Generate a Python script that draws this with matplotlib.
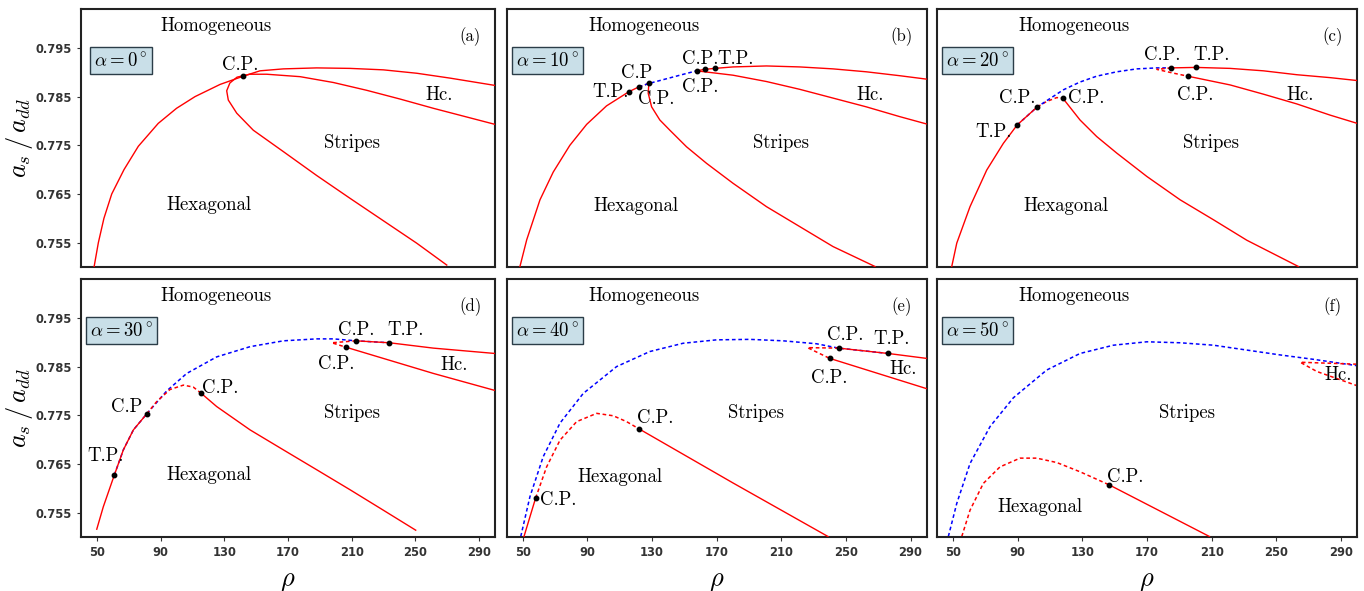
import matplotlib
matplotlib.use("Agg")
import matplotlib.pyplot as plt

plt.rcParams["mathtext.fontset"] = "cm"

# ---- phase boundaries (rho, a_s/a_dd) ----
# (a) alpha = 0
a_outer_rho = [48.2, 50.9, 54.4, 59.3, 67.0, 76.0, 88.5, 100.0, 111.6, 127.3, 141.9, 152.4, 167.1, 188.0, 209.0, 229.9, 250.9, 271.8, 300.0]
a_outer_val = [0.7500, 0.7550, 0.7600, 0.7650, 0.7700, 0.7748, 0.7795, 0.7826, 0.7850, 0.7875, 0.7892, 0.7903, 0.7907, 0.7909, 0.7908, 0.7905, 0.7898, 0.7888, 0.7873]
a_inner_rho = [300.0, 261.3, 240.4, 219.4, 198.5, 177.6, 156.6, 146.0, 138.0, 133.5, 131.5, 132.5, 137.8, 148.2, 167.1, 188.0, 209.0, 229.9, 250.8, 269.7]
a_inner_val = [0.7793, 0.7826, 0.7845, 0.7863, 0.7879, 0.7891, 0.7896, 0.7896, 0.7890, 0.7878, 0.7862, 0.7843, 0.7816, 0.7781, 0.7737, 0.7688, 0.7641, 0.7595, 0.7549, 0.7504]
a_pts_rho = [141.9]
a_pts_val = [0.7892]

# (b) alpha = 10
b_outer_rho = [48.2, 52.4, 56.5, 60.6, 68.8, 79.1, 89.5, 101.8, 115.6, 121.8]
b_outer_val = [0.7501, 0.7556, 0.7597, 0.7638, 0.7695, 0.7750, 0.7793, 0.7831, 0.7860, 0.7870]
b_meta_rho = [121.8, 128.0]
b_meta_val = [0.7870, 0.7877]
b_blue_rho = [121.8, 128.0, 147.2, 157.5]
b_blue_val = [0.7870, 0.7877, 0.7894, 0.7903]
b_upper_rho = [157.5, 162.6, 168.8, 180.1, 200.8, 221.4, 242.0, 262.6, 283.2, 299.7]
b_upper_val = [0.7903, 0.7906, 0.7908, 0.7911, 0.7913, 0.7911, 0.7907, 0.7901, 0.7893, 0.7886]
b_lower_rho = [157.5, 180.1, 200.8, 221.4, 242.0, 262.6, 283.2, 299.7]
b_lower_val = [0.7903, 0.7894, 0.7881, 0.7865, 0.7847, 0.7829, 0.7809, 0.7794]
b_inner_rho = [128.0, 127.6, 129.7, 134.8, 141.0, 151.3, 163.7, 180.1, 200.8, 221.4, 242.0, 268.0]
b_inner_val = [0.7877, 0.7857, 0.7829, 0.7802, 0.7781, 0.7747, 0.7713, 0.7672, 0.7624, 0.7583, 0.7542, 0.7501]
b_pts_rho = [115.6, 121.8, 128.0, 157.5, 162.6, 168.8]
b_pts_val = [0.7860, 0.7870, 0.7877, 0.7903, 0.7906, 0.7908]

# (c) alpha = 20
c_outer_rho = [49.3, 52.4, 60.6, 70.9, 81.2, 89.8, 102.2]
c_outer_val = [0.7501, 0.7549, 0.7624, 0.7699, 0.7754, 0.7792, 0.7829]
c_hump_rho = [102.2, 108.0, 114.2, 117.9]
c_hump_val = [0.7829, 0.7840, 0.7848, 0.7847]
c_blue_rho = [89.8, 102.2, 118.3, 128.6, 138.9, 151.3, 163.7, 176.1, 184.9]
c_blue_val = [0.7792, 0.7829, 0.7864, 0.7880, 0.7892, 0.7901, 0.7907, 0.7909, 0.7909]
c_upper_rho = [184.9, 200.2, 221.4, 242.0, 262.6, 283.2, 300.0]
c_upper_val = [0.7909, 0.7910, 0.7908, 0.7903, 0.7895, 0.7889, 0.7883]
c_lower_rho = [195.2, 221.4, 242.0, 262.6, 283.2, 300.0]
c_lower_val = [0.7892, 0.7874, 0.7855, 0.7835, 0.7812, 0.7795]
c_tip_rho = [184.9, 176.1, 185.3, 195.2]
c_tip_val = [0.7909, 0.7906, 0.7899, 0.7892]
c_inner_rho = [117.9, 128.6, 138.9, 151.3, 169.9, 190.5, 211.1, 231.7, 263.6]
c_inner_val = [0.7847, 0.7802, 0.7768, 0.7734, 0.7686, 0.7638, 0.7597, 0.7555, 0.7501]
c_pts_rho = [89.8, 102.2, 117.9, 184.9, 200.2, 195.2]
c_pts_val = [0.7792, 0.7829, 0.7847, 0.7909, 0.7910, 0.7892]

# (d) alpha = 30
d_outer_rho = [49.9, 54.0, 60.9, 66.6, 72.9, 81.3]
d_outer_val = [0.7516, 0.7562, 0.7627, 0.7679, 0.7720, 0.7753]
d_blue_rho = [60.9, 66.6, 72.9, 81.3, 93.8, 106.4, 125.2, 146.2, 167.1, 188.1, 198.5, 212.7, 233.7]
d_blue_val = [0.7627, 0.7679, 0.7720, 0.7753, 0.7800, 0.7836, 0.7870, 0.7891, 0.7903, 0.7907, 0.7907, 0.7903, 0.7899]
d_hump_rho = [81.3, 87.5, 95.9, 104.3, 110.5, 115.2]
d_hump_val = [0.7753, 0.7778, 0.7803, 0.7812, 0.7808, 0.7796]
d_inner_rho = [115.2, 125.2, 146.2, 167.1, 188.1, 209.0, 229.9, 250.2]
d_inner_val = [0.7796, 0.7768, 0.7720, 0.7679, 0.7638, 0.7597, 0.7555, 0.7514]
d_upper_rho = [212.7, 233.7, 261.3, 300.0]
d_upper_val = [0.7903, 0.7899, 0.7888, 0.7877]
d_lower_rho = [206.3, 261.3, 300.0]
d_lower_val = [0.7890, 0.7836, 0.7801]
d_tip_rho = [212.7, 197.5, 206.3]
d_tip_val = [0.7903, 0.7899, 0.7890]
d_pts_rho = [60.9, 81.3, 115.2, 212.7, 233.7, 206.3]
d_pts_val = [0.7627, 0.7753, 0.7796, 0.7903, 0.7899, 0.7890]

# (e) alpha = 40
e_outer_rho = [50.7, 57.9]
e_outer_val = [0.7501, 0.7580]
e_blue_rho = [48.7, 54.4, 62.6, 73.0, 87.4, 108.0, 128.6, 149.2, 169.9, 190.5, 211.1, 231.7, 245.5, 276.2]
e_blue_val = [0.7501, 0.7583, 0.7665, 0.7734, 0.7795, 0.7850, 0.7881, 0.7898, 0.7905, 0.7906, 0.7903, 0.7897, 0.7888, 0.7877]
e_hump_rho = [57.9, 64.7, 73.0, 83.3, 95.7, 106.0, 114.2, 122.0]
e_hump_val = [0.7580, 0.7644, 0.7699, 0.7737, 0.7754, 0.7749, 0.7737, 0.7722]
e_inner_rho = [122.0, 180.1, 238.9]
e_inner_val = [0.7722, 0.7611, 0.7501]
e_upper_rho = [245.5, 276.2, 299.7]
e_upper_val = [0.7888, 0.7877, 0.7867]
e_lower_rho = [239.9, 299.7]
e_lower_val = [0.7867, 0.7805]
e_tip_rho = [245.5, 226.2, 239.9]
e_tip_val = [0.7888, 0.7889, 0.7867]
e_pts_rho = [57.9, 122.0, 245.5, 276.2, 239.9]
e_pts_val = [0.7580, 0.7722, 0.7888, 0.7877, 0.7867]

# (f) alpha = 50
f_blue_rho = [47.2, 52.4, 60.6, 73.0, 87.4, 108.0, 128.6, 149.2, 169.9, 190.5, 211.1, 231.7, 252.3, 272.9, 299.7]
f_blue_val = [0.7501, 0.7569, 0.7651, 0.7727, 0.7786, 0.7843, 0.7877, 0.7894, 0.7901, 0.7899, 0.7894, 0.7884, 0.7874, 0.7865, 0.7852]
f_hump_rho = [55.5, 60.6, 68.8, 79.1, 91.5, 101.8, 114.2, 128.6, 146.7]
f_hump_val = [0.7501, 0.7555, 0.7610, 0.7644, 0.7662, 0.7662, 0.7653, 0.7634, 0.7607]
f_inner_rho = [146.7, 208.6]
f_inner_val = [0.7607, 0.7501]
f_hc_rho = [299.7, 264.7, 275.0, 299.7]
f_hc_val = [0.7855, 0.7859, 0.7840, 0.7811]
f_pts_rho = [146.7]
f_pts_val = [0.7607]

angles = [0, 10, 20, 30, 40, 50]
panel_tags = ["(a)", "(b)", "(c)", "(d)", "(e)", "(f)"]
x_ticks = [50, 90, 130, 170, 210, 250, 290]
y_ticks = [0.755, 0.765, 0.775, 0.785, 0.795]

RED = "#ff0000"
BLUE = "#0000ff"
SERIF = "cmr10"
LBL = 13.5


def solid(ax, r, v):
    ax.plot(r, v, color=RED, lw=1.0, zorder=3)


def dashed(ax, r, v, color=RED):
    ax.plot(r, v, color=color, lw=1.1, dashes=(2.4, 1.8), zorder=2)


def dots(ax, r, v):
    ax.plot(r, v, "o", color="black", ms=3.2, zorder=5)


def label(ax, s, r, v, ha="center"):
    ax.text(r, v, s, fontsize=LBL, family=SERIF, ha=ha, va="center", zorder=6)


fig = plt.figure(figsize=(13.64, 5.91), dpi=100)
W, H = 1364.0, 591.0
cols = [(81, 414), (506.7, 420), (936.7, 420.6)]
rows = [(9, 258), (279, 258)]

axes = []
for i in range(6):
    r, c = divmod(i, 3)
    x0, w = cols[c]
    y0, h = rows[r]
    ax = fig.add_axes([x0 / W, 1 - (y0 + h) / H, w / W, h / H])
    ax.set_xlim(40, 300)
    ax.set_ylim(0.750, 0.803)
    for sp in ax.spines.values():
        sp.set_linewidth(1.5)
        sp.set_color("#222222")
    ax.tick_params(direction="out", length=3, width=0.8, color="#333333",
                   labelsize=8.3, labelcolor="#333333")
    if r == 1:
        ax.set_xticks(x_ticks)
        for t in ax.get_xticklabels():
            t.set_fontweight("bold")
        ax.set_xlabel(r"$\rho$", fontsize=19)
        ax.xaxis.set_label_coords(0.5, -0.115)
    else:
        ax.set_xticks([])
    if c == 0:
        ax.set_yticks(y_ticks)
        ax.set_yticklabels([f"{t:.3f}" for t in y_ticks])
        for t in ax.get_yticklabels():
            t.set_fontweight("bold")
        ax.set_ylabel(r"$a_s\,/\,a_{dd}$", fontsize=19)
        ax.yaxis.set_label_coords(-0.112, 0.5)
    else:
        ax.set_yticks([])
    ax.text(0.94, 0.893, panel_tags[i], transform=ax.transAxes, fontsize=12,
            family=SERIF, ha="center", va="center")
    ax.text(0.097, 0.80, rf"$\alpha = {angles[i]}^\circ$", transform=ax.transAxes,
            fontsize=13.5, ha="center", va="center",
            bbox=dict(boxstyle="square,pad=0.22", fc="#c9dfe8", ec="#2b3d48", lw=1.0))
    label(ax, "Homogeneous", 125, 0.7995)
    axes.append(ax)

ax_a, ax_b, ax_c, ax_d, ax_e, ax_f = axes

# (a)
solid(ax_a, a_outer_rho, a_outer_val)
solid(ax_a, a_inner_rho, a_inner_val)
dots(ax_a, a_pts_rho, a_pts_val)
label(ax_a, "C.P.", 140, 0.7915)
label(ax_a, "Hexagonal", 120.4, 0.7627)
label(ax_a, "Stripes", 210, 0.7755)
label(ax_a, "Hc.", 265, 0.7853)

# (b)
solid(ax_b, b_outer_rho, b_outer_val)
dashed(ax_b, b_meta_rho, b_meta_val)
dashed(ax_b, b_blue_rho, b_blue_val, BLUE)
solid(ax_b, b_upper_rho, b_upper_val)
solid(ax_b, b_lower_rho, b_lower_val)
solid(ax_b, b_inner_rho, b_inner_val)
dots(ax_b, b_pts_rho, b_pts_val)
label(ax_b, "T.P.", 104, 0.7860)
label(ax_b, "C.P", 120.3, 0.7898)
label(ax_b, "C.P.", 132.3, 0.7845)
label(ax_b, "C.P.", 159.5, 0.7870)
label(ax_b, "C.P.", 159.5, 0.7927)
label(ax_b, "T.P.", 181.8, 0.7927)
label(ax_b, "Hexagonal", 120, 0.7625)
label(ax_b, "Stripes", 209.6, 0.7755)
label(ax_b, "Hc.", 264.7, 0.7853)

# (c)
solid(ax_c, c_outer_rho, c_outer_val)
dashed(ax_c, c_hump_rho, c_hump_val)
dashed(ax_c, c_blue_rho, c_blue_val, BLUE)
solid(ax_c, c_upper_rho, c_upper_val)
solid(ax_c, c_lower_rho, c_lower_val)
dashed(ax_c, c_tip_rho, c_tip_val)
solid(ax_c, c_inner_rho, c_inner_val)
dots(ax_c, c_pts_rho, c_pts_val)
label(ax_c, "T.P.", 75, 0.7778)
label(ax_c, "C.P.", 89.8, 0.7847)
label(ax_c, "C.P.", 132.7, 0.7847)
label(ax_c, "C.P.", 179.1, 0.7935)
label(ax_c, "T.P.", 210.1, 0.7935)
label(ax_c, "C.P.", 199.7, 0.7853)
label(ax_c, "Hexagonal", 120, 0.7625)
label(ax_c, "Stripes", 209.6, 0.7755)
label(ax_c, "Hc.", 264.7, 0.7853)

# (d)
solid(ax_d, d_outer_rho, d_outer_val)
dashed(ax_d, d_blue_rho, d_blue_val, BLUE)
dashed(ax_d, d_hump_rho, d_hump_val)
solid(ax_d, d_inner_rho, d_inner_val)
solid(ax_d, d_upper_rho, d_upper_val)
solid(ax_d, d_lower_rho, d_lower_val)
dashed(ax_d, d_tip_rho, d_tip_val)
dots(ax_d, d_pts_rho, d_pts_val)
label(ax_d, "T.P.", 55.1, 0.7666)
label(ax_d, "C.P", 68.7, 0.7768)
label(ax_d, "C.P.", 127.7, 0.7805)
label(ax_d, "C.P.", 212.7, 0.7925)
label(ax_d, "T.P.", 244.1, 0.7925)
label(ax_d, "C.P.", 200.2, 0.7855)
label(ax_d, "Hexagonal", 120.4, 0.7627)
label(ax_d, "Stripes", 210, 0.7755)
label(ax_d, "Hc.", 274.3, 0.7853)

# (e)
solid(ax_e, e_outer_rho, e_outer_val)
dashed(ax_e, e_blue_rho, e_blue_val, BLUE)
dashed(ax_e, e_hump_rho, e_hump_val)
solid(ax_e, e_inner_rho, e_inner_val)
solid(ax_e, e_upper_rho, e_upper_val)
solid(ax_e, e_lower_rho, e_lower_val)
dashed(ax_e, e_tip_rho, e_tip_val)
dots(ax_e, e_pts_rho, e_pts_val)
label(ax_e, "C.P.", 71.9, 0.7576)
label(ax_e, "C.P.", 131.7, 0.7745)
label(ax_e, "C.P.", 249.6, 0.7915)
label(ax_e, "T.P.", 278.5, 0.7907)
label(ax_e, "C.P.", 239.5, 0.7826)
label(ax_e, "Hexagonal", 110.1, 0.7624)
label(ax_e, "Stripes", 194.6, 0.7754)
label(ax_e, "Hc.", 285.3, 0.7845)

# (f)
dashed(ax_f, f_blue_rho, f_blue_val, BLUE)
dashed(ax_f, f_hump_rho, f_hump_val)
solid(ax_f, f_inner_rho, f_inner_val)
dashed(ax_f, f_hc_rho, f_hc_val)
dots(ax_f, f_pts_rho, f_pts_val)
label(ax_f, "C.P.", 156.5, 0.7624)
label(ax_f, "Hexagonal", 103.9, 0.7562)
label(ax_f, "Stripes", 194.6, 0.7754)
label(ax_f, "Hc.", 288.4, 0.7833)

fig.savefig("out.png", dpi=100)
